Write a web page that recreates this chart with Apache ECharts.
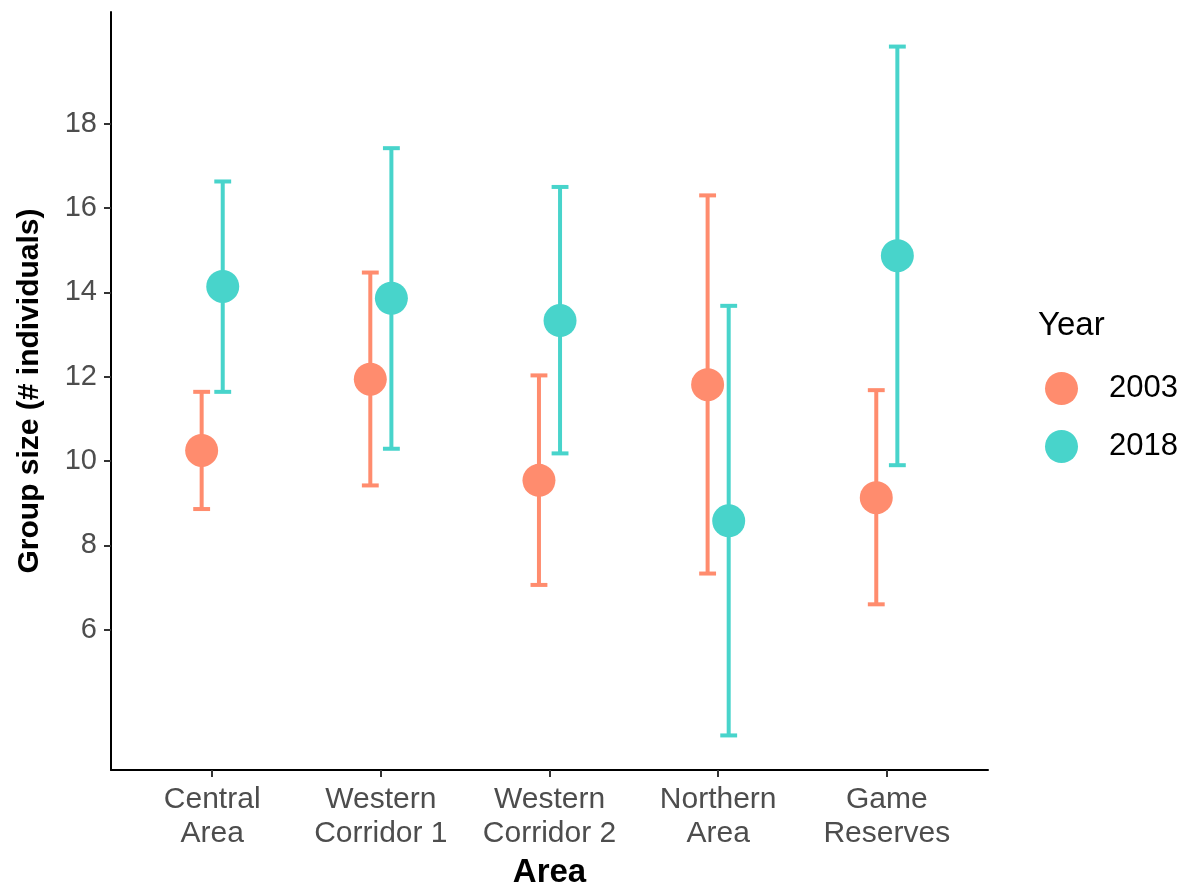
<!DOCTYPE html>
<html>
<head>
<meta charset="utf-8">
<script src="https://cdn.jsdelivr.net/npm/echarts@6/dist/echarts.min.js"></script>
<style>
  html, body { margin: 0; padding: 0; background: #fff; }
  #chart { width: 1187px; height: 885px; }
</style>
</head>
<body>
<div id="chart"></div>
<script>
// Study areas along the x axis
const categories = ['Central\nArea', 'Western\nCorridor 1', 'Western\nCorridor 2', 'Northern\nArea', 'Game\nReserves'];

// Mean group size with lower / upper error bounds, per survey year
const mean2003 = [10.25, 11.94, 9.54, 11.81, 9.13];
const low2003  = [8.86, 9.42, 7.06, 7.33, 6.60];
const high2003 = [11.64, 14.47, 12.03, 16.30, 11.68];

const mean2018 = [14.14, 13.86, 13.33, 8.58, 14.87];
const low2018  = [11.64, 10.29, 10.18, 3.49, 9.90];
const high2018 = [16.63, 17.42, 16.50, 13.68, 19.83];

const yTicks = [6, 8, 10, 12, 14, 16, 18];
const years = ['2003', '2018'];
const colors = { '2003': '#FF8C6E', '2018': '#48D4CB' };

const dodge = 0.0625;     // horizontal offset of each year within a category
const capHalf = 0.05;     // half width of the error-bar caps, in category units
const FONT = '"Liberation Sans", Arial, Helvetica, sans-serif';

function rows(mean, low, high, shift) {
  return mean.map((m, i) => [i + shift, m, low[i], high[i]]);
}

function errorBarSeries(name, data) {
  return {
    name: name,
    type: 'custom',
    z: 2,
    silent: true,
    itemStyle: { color: colors[name] },
    data: data,
    encode: { x: 0, y: [1, 2, 3] },
    renderItem: function (params, api) {
      const x = api.value(0);
      const lo = api.coord([x, api.value(2)]);
      const hi = api.coord([x, api.value(3)]);
      const left = api.coord([x - capHalf, 0])[0];
      const right = api.coord([x + capHalf, 0])[0];
      const style = { stroke: colors[name], lineWidth: 4, fill: null };
      return {
        type: 'group',
        children: [
          { type: 'line', shape: { x1: lo[0], y1: lo[1], x2: hi[0], y2: hi[1] }, style: style },
          { type: 'line', shape: { x1: left, y1: hi[1], x2: right, y2: hi[1] }, style: style },
          { type: 'line', shape: { x1: left, y1: lo[1], x2: right, y2: lo[1] }, style: style }
        ]
      };
    }
  };
}

function pointSeries(name, data) {
  return {
    name: name,
    type: 'scatter',
    z: 3,
    symbol: 'circle',
    symbolSize: 33,
    itemStyle: { color: colors[name], opacity: 1 },
    data: data.map(r => [r[0], r[1]])
  };
}

const d2003 = rows(mean2003, low2003, high2003, -dodge);
const d2018 = rows(mean2018, low2018, high2018, dodge);

const chart = echarts.init(document.getElementById('chart'), null, { renderer: 'canvas' });

chart.setOption({
  animation: false,
  backgroundColor: '#ffffff',
  textStyle: { fontFamily: FONT },
  grid: { left: 111, right: 199, top: 12, bottom: 115, containLabel: false, outerBoundsMode: 'none' },
  xAxis: {
    type: 'value',
    min: -0.6,
    max: 4.6,
    name: 'Area',
    nameLocation: 'middle',
    nameGap: 86,
    nameTextStyle: { color: '#000', fontSize: 33, fontWeight: 'bold', fontFamily: FONT },
    axisLine: { show: true, onZero: false, lineStyle: { color: '#000', width: 2 } },
    axisTick: { show: true, length: 7, customValues: [0, 1, 2, 3, 4], lineStyle: { color: '#333', width: 2 } },
    axisLabel: {
      customValues: [0, 1, 2, 3, 4],
      formatter: v => categories[Math.round(v)],
      color: '#4D4D4D',
      fontSize: 30,
      lineHeight: 34,
      margin: 13,
      fontFamily: FONT
    },
    splitLine: { show: false }
  },
  yAxis: {
    type: 'value',
    min: 2.67,
    max: 20.65,
    name: 'Group size (# individuals)',
    nameLocation: 'middle',
    nameGap: 66,
    nameRotate: 90,
    nameTextStyle: { color: '#000', fontSize: 30, fontWeight: 'bold', fontFamily: FONT },
    axisLine: { show: true, onZero: false, lineStyle: { color: '#000', width: 2 } },
    axisTick: { show: true, length: 7, customValues: yTicks, lineStyle: { color: '#333', width: 2 } },
    axisLabel: { customValues: yTicks, color: '#4D4D4D', fontSize: 29, margin: 14, fontFamily: FONT },
    splitLine: { show: false }
  },
  legend: {
    orient: 'vertical',
    left: 1045,
    top: 372,
    padding: 0,
    itemWidth: 33,
    itemHeight: 33,
    itemGap: 25,
    icon: 'circle',
    data: years.map(y => ({ name: y, itemStyle: { color: colors[y] } })),
    textStyle: { color: '#000', fontSize: 31, fontFamily: FONT, padding: [0, 0, 0, 26] }
  },
  graphic: [
    {
      type: 'text',
      x: 1038,
      y: 326,
      style: {
        text: 'Year',
        fill: '#000',
        font: '33px ' + FONT,
        textAlign: 'left',
        textVerticalAlign: 'middle'
      }
    }
  ],
  series: [
    errorBarSeries('2003', d2003),
    errorBarSeries('2018', d2018),
    pointSeries('2003', d2003),
    pointSeries('2018', d2018)
  ]
});
</script>
</body>
</html>
